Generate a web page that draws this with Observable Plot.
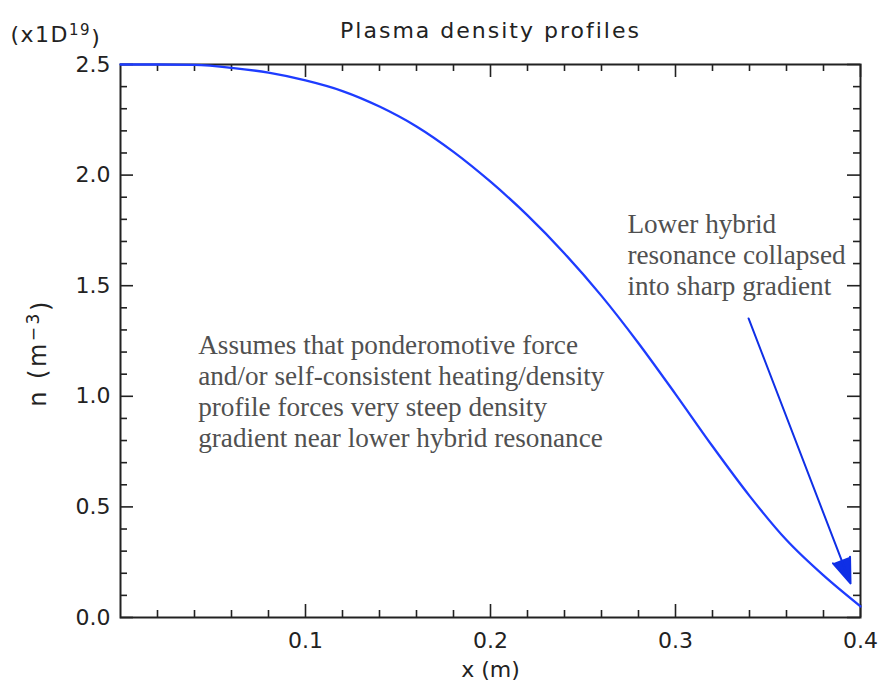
<!DOCTYPE html>
<html><head><meta charset="utf-8">
<script src="https://cdn.jsdelivr.net/npm/d3@7"></script>
<script src="https://cdn.jsdelivr.net/npm/@observablehq/plot@0.6"></script>
<style>
body{margin:0;background:#fff}
#chart{width:884px;height:688px}
</style>
</head><body><div id="chart"></div>
<script>
// ---- data ----
const xPos    = [0, 0.02, 0.04, 0.06, 0.08, 0.10, 0.12, 0.14, 0.16, 0.18, 0.20, 0.22, 0.24, 0.26, 0.28, 0.30, 0.32, 0.34, 0.36, 0.38, 0.40];
const density = [2.50, 2.50, 2.498, 2.485, 2.463, 2.428, 2.38, 2.31, 2.22, 2.105, 1.97, 1.818, 1.646, 1.454, 1.24, 1.01, 0.774, 0.55, 0.35, 0.19, 0.05];

const xMajorTicks = [0.1, 0.2, 0.3, 0.4];
const xMinorTicks = [0.02, 0.04, 0.06, 0.08, 0.12, 0.14, 0.16, 0.18, 0.22, 0.24, 0.26, 0.28, 0.32, 0.34, 0.36, 0.38];
const yMajorTicks = [0, 0.5, 1.0, 1.5, 2.0, 2.5];
const yMinorTicks = [0.1, 0.2, 0.3, 0.4, 0.6, 0.7, 0.8, 0.9, 1.1, 1.2, 1.3, 1.4, 1.6, 1.7, 1.8, 1.9, 2.1, 2.2, 2.3, 2.4];

const title = "Plasma density profiles";
const xLabel = "x (m)";
const yLabelParts = ["n (m", "\u22123", ")"];      // base, superscript, tail
const scaleNoteParts = ["(x1D", "19", ")"];       // base, superscript, tail

const noteLeftLines  = ["Assumes that ponderomotive force", "and/or self-consistent heating/density", "profile forces very steep density", "gradient near lower hybrid resonance"];
const noteLeftAt     = [0.042, 1.026];
const noteRightLines = ["Lower hybrid", "resonance collapsed", "into sharp gradient"];
const noteRightAt    = [0.274, 1.641];
const arrowFrom = [0.3395, 1.352];
const arrowTo   = [0.3946, 0.154];

// ---- layout ----
const width = 884, height = 688;
const mL = 120, mR = 24, mT = 64, mB = 71;
const W = width - mL - mR, H = height - mT - mB;
const axisColor = "#222";
const majorLen = 13, minorLen = 7;

const profile = xPos.map((x, i) => ({x, n: density[i]}));
const notes = [
  {x: noteLeftAt[0], y: noteLeftAt[1], text: noteLeftLines.join("\n")},
  {x: noteRightAt[0], y: noteRightAt[1], text: noteRightLines.join("\n")}
];
const arrows = [{x1: arrowFrom[0], y1: arrowFrom[1], x2: arrowTo[0], y2: arrowTo[1]}];

const tickStyle = {stroke: axisColor, strokeWidth: 1.6};
const yLabel = yLabelParts.join("");
const scaleNote = scaleNoteParts.join("");

const plot = Plot.plot({
  width, height,
  marginLeft: mL, marginRight: mR, marginTop: mT, marginBottom: mB,
  style: {fontFamily: "DejaVu Sans", fontSize: "22px", color: axisColor, background: "#fff"},
  x: {domain: [0, 0.4]},
  y: {domain: [0, 2.5]},
  marks: [
    Plot.tickX(xMajorTicks, {x: d => d, insetTop: H - majorLen, ...tickStyle}),
    Plot.tickX(xMinorTicks, {x: d => d, insetTop: H - minorLen, ...tickStyle}),
    Plot.tickX(xMajorTicks, {x: d => d, insetBottom: H - majorLen, ...tickStyle}),
    Plot.tickX(xMinorTicks, {x: d => d, insetBottom: H - minorLen, ...tickStyle}),
    Plot.tickY(yMajorTicks, {y: d => d, insetRight: W - majorLen, ...tickStyle}),
    Plot.tickY(yMinorTicks, {y: d => d, insetRight: W - minorLen, ...tickStyle}),
    Plot.tickY(yMajorTicks, {y: d => d, insetLeft: W - majorLen, ...tickStyle}),
    Plot.tickY(yMinorTicks, {y: d => d, insetLeft: W - minorLen, ...tickStyle}),
    Plot.axisX({ticks: xMajorTicks, tickSize: 0, tickPadding: 15, tickFormat: d => d.toFixed(1), label: null, fontSize: 22}),
    Plot.axisY({ticks: yMajorTicks, tickSize: 0, tickPadding: 10, tickFormat: d => d.toFixed(1), label: null, fontSize: 22}),
    Plot.frame({stroke: axisColor, strokeWidth: 2}),
    Plot.line(profile, {x: "x", y: "n", stroke: "#1e3cff", strokeWidth: 2.3, curve: "monotone-x"}),
    Plot.arrow(arrows, {x1: "x1", y1: "y1", x2: "x2", y2: "y2", stroke: "#0f2fe6", fill: "#0f2fe6", strokeWidth: 2, headLength: 20, headAngle: 40}),
    Plot.text(notes, {x: "x", y: "y", text: "text", textAnchor: "start", lineAnchor: "middle", lineHeight: 1.14, fontFamily: "Liberation Serif", fontSize: 27.2, fill: "#505050"}),
    Plot.text([title], {frameAnchor: "top", textAnchor: "middle", lineAnchor: "middle", dy: -34, fontSize: 22}),
    Plot.text([scaleNote], {frameAnchor: "top-left", textAnchor: "start", lineAnchor: "middle", dx: -110, dy: -30, fontSize: 22}),
    Plot.text([xLabel], {frameAnchor: "bottom", textAnchor: "middle", lineAnchor: "middle", dy: 52, fontSize: 22}),
    Plot.text([yLabel], {frameAnchor: "left", textAnchor: "middle", lineAnchor: "middle", dx: -82, dy: 12, rotate: -90, fontSize: 24})
  ]
});

// typographic touches: letter spacing, real superscripts
const svg = d3.select(plot);
svg.selectAll("text").each(function() {
  const t = d3.select(this);
  const s = this.textContent;
  if (s === title) t.style("letter-spacing", "2px");
  const parts = s === scaleNote ? scaleNoteParts : s === yLabel ? yLabelParts : null;
  if (parts) {
    t.style("letter-spacing", s === scaleNote ? "1.5px" : "2.5px");
    const dyAttr = t.attr("dy");
    t.text(null);
    const a = t.append("tspan").text(parts[0]);
    if (dyAttr) { t.attr("dy", null); a.attr("dy", dyAttr); }
    t.append("tspan").attr("dy", "-0.45em").attr("font-size", s === scaleNote ? "15px" : "17px").text(parts[1]);
    t.append("tspan").attr("dy", "0.45em").text(parts[2]);
  }
});
document.getElementById("chart").appendChild(plot);
</script>
</body></html>
